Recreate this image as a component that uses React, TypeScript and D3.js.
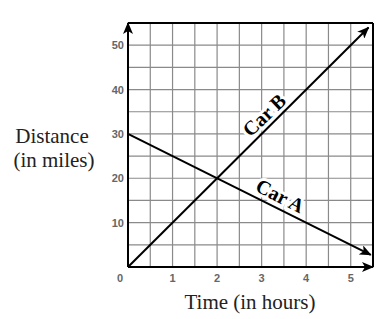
import React from "react";
import * as d3 from "d3";

const xTicks = [0, 1, 2, 3, 4, 5];
const yTicks = [10, 20, 30, 40, 50];
const carATime = [0, 5.45];
const carADist = [30, 2.75];
const carBTime = [0, 5.4];
const carBDist = [0, 54];

const W = 386;
const H = 319;
const left = 128;
const right = 373;
const top = 23;
const bottom = 267;

export default function App() {
  const x = d3.scaleLinear().domain([0, 5.5]).range([left, right]);
  const y = d3.scaleLinear().domain([0, 55]).range([bottom, top]);
  const gridX = d3.range(0.5, 5.5, 0.5);
  const gridY = d3.range(5, 55, 5);
  const line = d3
    .line<[number, number]>()
    .x((d) => x(d[0]))
    .y((d) => y(d[1]));
  const carA: [number, number][] = carATime.map((t, i) => [t, carADist[i]]);
  const carB: [number, number][] = carBTime.map((t, i) => [t, carBDist[i]]);

  const angB = -44;
  const angA = 27;

  return (
    <svg
      width={W}
      height={H}
      style={{ position: "absolute", left: 0, top: 0, background: "#fff" }}
    >
      <defs>
        <marker
          id="arr"
          viewBox="0 0 12 10"
          refX="11"
          refY="5"
          markerWidth="12"
          markerHeight="10"
          markerUnits="userSpaceOnUse"
          orient="auto"
        >
          <path d="M0,0 L12,5 L0,10 L3,5 Z" fill="#000" />
        </marker>
      </defs>
      {gridX.map((g) => (
        <line key={"gx" + g} x1={x(g)} x2={x(g)} y1={top} y2={bottom} stroke="#8a8a8a" strokeWidth={1.2} />
      ))}
      {gridY.map((g) => (
        <line key={"gy" + g} x1={left} x2={right} y1={y(g)} y2={y(g)} stroke="#8a8a8a" strokeWidth={1.2} />
      ))}
      <text
        transform={`translate(269,120) rotate(${angB})`}
        textAnchor="middle"
        fontFamily="Liberation Serif, Times New Roman, serif"
        fontWeight="bold"
        fontSize={20}
        fill="#000"
        stroke="#fff"
        strokeWidth={6}
        paintOrder="stroke"
      >
        Car B
      </text>
      <text
        transform={`translate(277,202) rotate(${angA})`}
        textAnchor="middle"
        fontFamily="Liberation Serif, Times New Roman, serif"
        fontWeight="bold"
        fontSize={20}
        fill="#000"
        stroke="#fff"
        strokeWidth={6}
        paintOrder="stroke"
      >
        Car A
      </text>
      <line x1={left} x2={right} y1={top} y2={top} stroke="#000" strokeWidth={2} />
      <line x1={right} x2={right} y1={top} y2={bottom} stroke="#000" strokeWidth={2} />
      <line x1={left} x2={left} y1={bottom} y2={top} stroke="#000" strokeWidth={2} markerEnd="url(#arr)" />
      <line x1={left} x2={right} y1={bottom} y2={bottom} stroke="#000" strokeWidth={2} markerEnd="url(#arr)" />
      <path d={line(carA) || ""} fill="none" stroke="#000" strokeWidth={2} markerEnd="url(#arr)" />
      <path d={line(carB) || ""} fill="none" stroke="#000" strokeWidth={2} markerEnd="url(#arr)" />
      {xTicks.map((t) => (
        <text
          key={"xt" + t}
          x={t === 0 ? x(t) - 8 : x(t)}
          y={282}
          textAnchor="middle"
          fontFamily="Liberation Sans, Arial, sans-serif"
          fontSize={11}
          fontWeight="bold"
          fill="#666"
        >
          {t}
        </text>
      ))}
      {yTicks.map((t) => (
        <text
          key={"yt" + t}
          x={124}
          y={y(t) + 4}
          textAnchor="end"
          fontFamily="Liberation Sans, Arial, sans-serif"
          fontSize={11}
          fontWeight="bold"
          fill="#666"
        >
          {t}
        </text>
      ))}
      <text
        x={250}
        y={309}
        textAnchor="middle"
        fontFamily="Liberation Serif, Times New Roman, serif"
        fontSize={21}
        fill="#222"
      >
        Time (in hours)
      </text>
      <text
        x={52}
        y={143}
        textAnchor="middle"
        fontFamily="Liberation Serif, Times New Roman, serif"
        fontSize={21}
        fill="#222"
      >
        Distance
      </text>
      <text
        x={54}
        y={167}
        textAnchor="middle"
        fontFamily="Liberation Serif, Times New Roman, serif"
        fontSize={21}
        fill="#222"
      >
        (in miles)
      </text>
    </svg>
  );
}
